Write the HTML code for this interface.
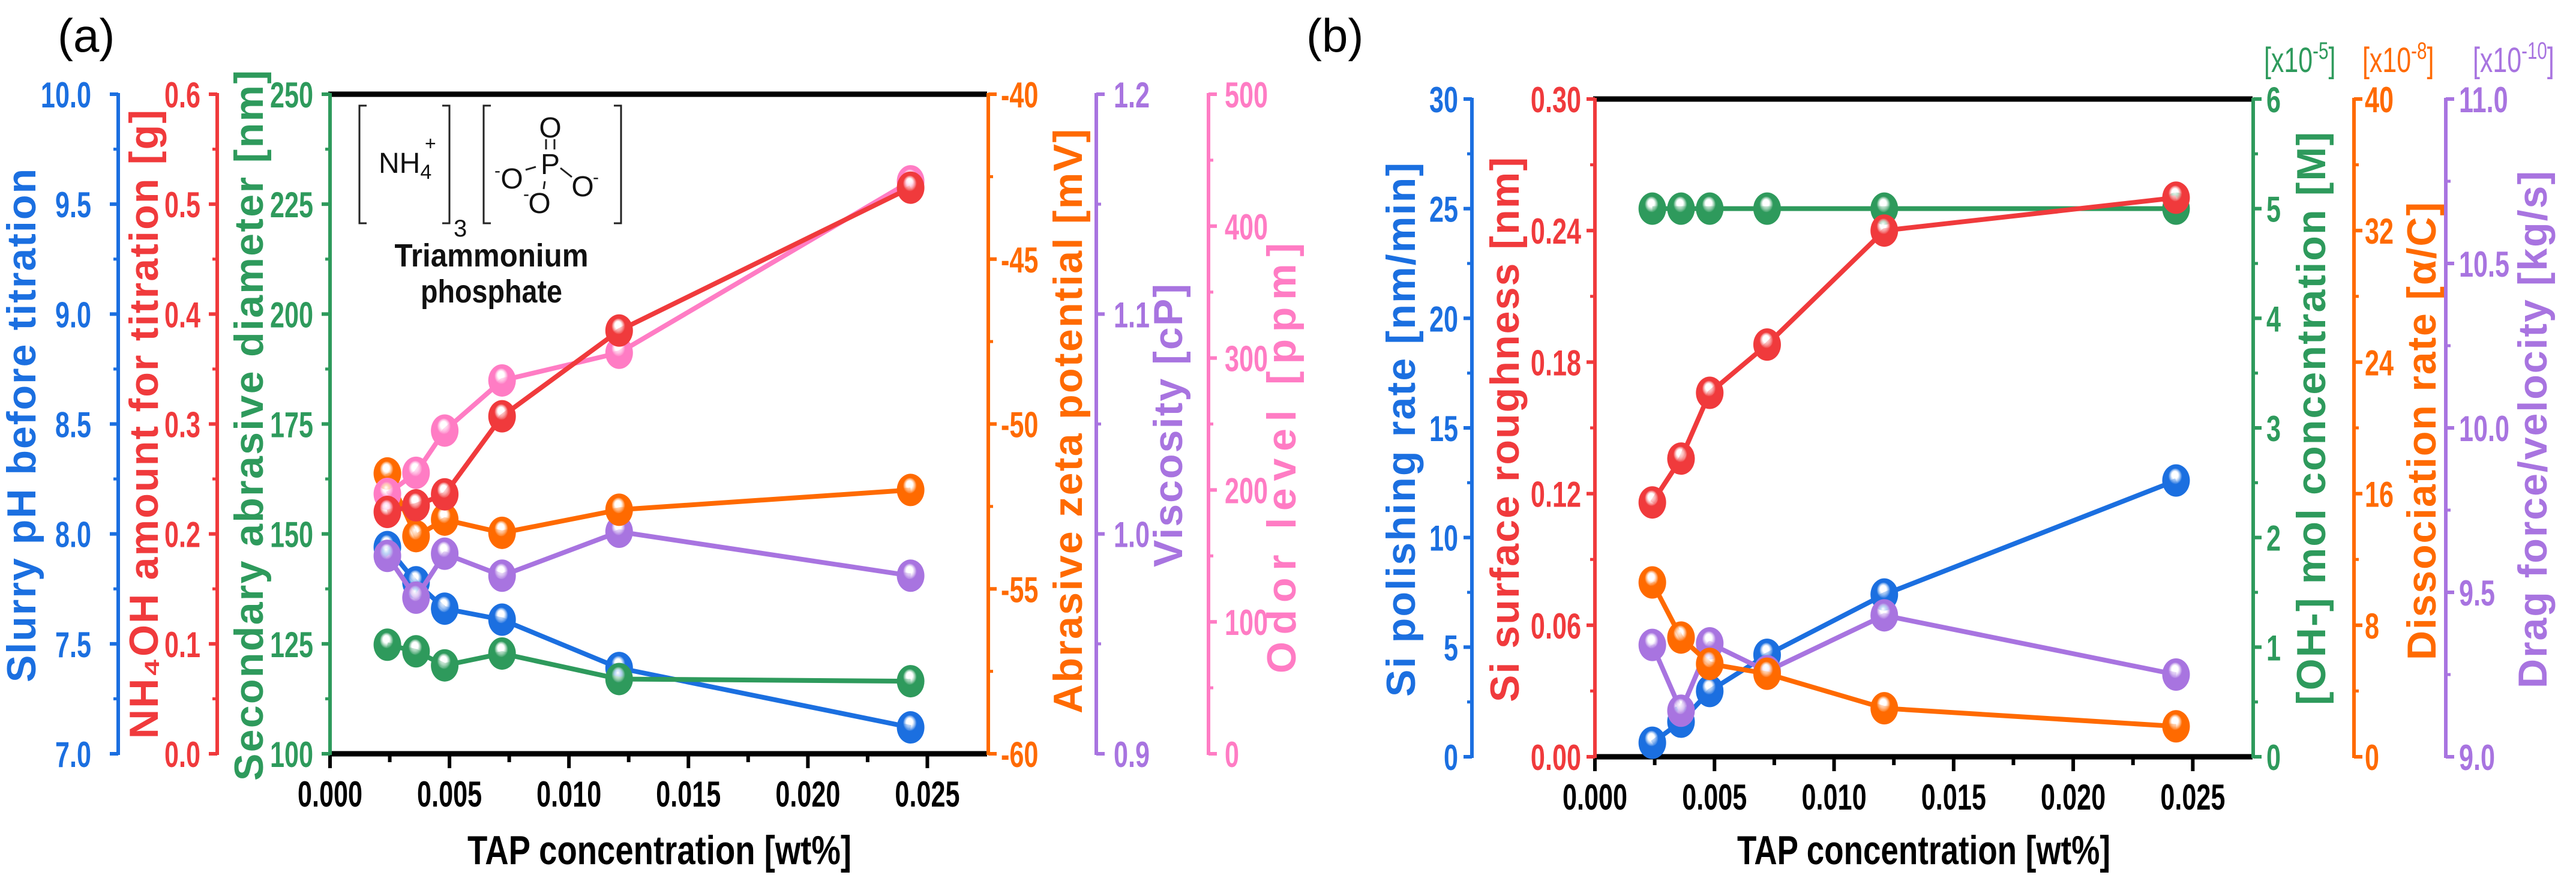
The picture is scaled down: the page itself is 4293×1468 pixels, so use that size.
<!DOCTYPE html>
<html><head><meta charset="utf-8"><style>
html,body{margin:0;padding:0;background:#fff;}
svg{display:block;}
text{font-family:"Liberation Sans",Arial,sans-serif;}
</style></head><body>
<svg id="fig" width="4293" height="1468" viewBox="0 0 4293 1468" xmlns="http://www.w3.org/2000/svg">
<defs id="defs"></defs>
<text x="96" y="86" font-size="78">(a)</text>
<text x="2177" y="86" font-size="78">(b)</text>
<g id="inset" stroke="#222" stroke-width="3" fill="none">
  <path d="M611 176 H599 V372 H611 M737 176 H749 V372 H737"/>
  <path d="M818 176 H806 V372 H818 M1023 176 H1035 V372 H1023"/>
  <path d="M910 232 V249 M924 232 V249"/>
  <path d="M876 283 L893 278 M934 280 L953 295 M908 302 L906 315"/>
</g>
<g fill="#111" font-size="48">
  <text x="631" y="288">NH<tspan font-size="34" dy="10">4</tspan></text>
  <text x="708" y="250" font-size="32">+</text>
  <text x="756" y="394" font-size="40">3</text>
  <text x="917" y="229" text-anchor="middle">O</text>
  <text x="917" y="290" text-anchor="middle">P</text>
  <text x="853" y="314" text-anchor="middle">O</text>
  <text x="824" y="294" font-size="30">-</text>
  <text x="971" y="327" text-anchor="middle">O</text>
  <text x="988" y="305" font-size="30">-</text>
  <text x="899" y="355" text-anchor="middle">O</text>
  <text x="872" y="333" font-size="30">-</text>
  <text x="819" y="444" text-anchor="middle" font-weight="bold" font-size="54" textLength="323" lengthAdjust="spacingAndGlyphs">Triammonium</text>
  <text x="819" y="504" text-anchor="middle" font-weight="bold" font-size="54" textLength="236" lengthAdjust="spacingAndGlyphs">phosphate</text>
</g>
</svg>
<script>
// ---------- Panel (a) data ----------
const xA = [0.0024, 0.0036, 0.0048, 0.0072, 0.0121, 0.0243];
const phA = [7.94, 7.78, 7.66, 7.61, 7.39, 7.12];
const nh4ohA = [0.220, 0.226, 0.236, 0.307, 0.385, 0.515];
const diamA = [124.8, 123.3, 120.1, 122.8, 117.0, 116.5];
const zetaA = [-51.5, -53.4, -52.9, -53.3, -52.6, -52.0];
const viscA = [0.990, 0.971, 0.991, 0.981, 1.001, 0.981];
const odorA = [197, 213, 245, 283, 304, 434];
// ---------- Panel (b) data ----------
const xB = [0.0024, 0.0036, 0.0048, 0.0072, 0.0121, 0.0243];
const rateB = [0.64, 1.6, 3.0, 4.65, 7.4, 12.6];
const roughB = [0.116, 0.136, 0.166, 0.188, 0.240, 0.255];
const ohB = [5.0, 5.0, 5.0, 5.0, 5.0, 5.0];
const dissB = [10.6, 7.25, 5.65, 5.05, 2.95, 1.85];
const dragB = [9.34, 9.14, 9.345, 9.26, 9.43, 9.25];
// ---------- tick labels ----------
const xTicks = ["0.000","0.005","0.010","0.015","0.020","0.025"];
const phTicks = ["7.0","7.5","8.0","8.5","9.0","9.5","10.0"];
const nh4Ticks = ["0.0","0.1","0.2","0.3","0.4","0.5","0.6"];
const diamTicks = ["100","125","150","175","200","225","250"];
const zetaTicks = ["-60","-55","-50","-45","-40"];
const viscTicks = ["0.9","1.0","1.1","1.2"];
const odorTicks = ["0","100","200","300","400","500"];
const rateTicks = ["0","5","10","15","20","25","30"];
const roughTicks = ["0.00","0.06","0.12","0.18","0.24","0.30"];
const ohTicks = ["0","1","2","3","4","5","6"];
const dissTicks = ["0","8","16","24","32","40"];
const dragTicks = ["9.0","9.5","10.0","10.5","11.0"];

const NS = "http://www.w3.org/2000/svg";
const svg = document.getElementById('fig');
const defs = document.getElementById('defs');
const C = {blue:"#1b6fe0", red:"#f03a3c", green:"#2e9a5c", orange:"#ff6a00", purple:"#a874e0", pink:"#ff7cc4"};

function mk(tag, attrs, parent){
  const e = document.createElementNS(NS, tag);
  for (const k in attrs) e.setAttribute(k, attrs[k]);
  (parent||svg).appendChild(e);
  return e;
}
for (const k in C){
  const g = mk('radialGradient', {id:'g-'+k, cx:'0.5', cy:'0.45', r:'0.55', fx:'0.45', fy:'0.3'}, defs);
  mk('stop', {offset:'0', 'stop-color':'#ffffff'}, g);
  mk('stop', {offset:'0.2', 'stop-color':'#ffffff', 'stop-opacity':'0.7'}, g);
  mk('stop', {offset:'0.45', 'stop-color':C[k]}, g);
  mk('stop', {offset:'1', 'stop-color':C[k]}, g);
}
const XMAX = 0.0275;
function xScale(P){ return v => P.left + v / XMAX * (P.right - P.left); }
function yScale(P, lo, hi){ return v => P.bottom - (v - lo) / (hi - lo) * (P.bottom - P.top); }

function tickText(x, y, s, color, anchor, parent){
  const t = mk('text', {transform:`translate(${x},${y}) scale(0.72,1)`, 'font-size':'60', 'font-weight':'bold', fill:color, 'text-anchor':anchor}, parent);
  t.textContent = s;
  return t;
}

function yAxis(P, cfg){
  const g = mk('g', {});
  
  
  const sc = yScale(P, cfg.lo, cfg.hi);
  mk('line', {x1:cfg.x, x2:cfg.x, y1:P.top-2, y2:P.bottom+2, stroke:cfg.color, 'stroke-width':6}, g);
  const dir = cfg.side === 'left' ? -1 : 1;
  const n = cfg.ticks.length;
  for (let i=0;i<n;i++){
    const v = cfg.lo + (cfg.hi-cfg.lo)*i/(n-1);
    const y = sc(v);
    mk('line', {x1:cfg.x, x2:cfg.x+dir*14, y1:y, y2:y, stroke:cfg.color, 'stroke-width':6}, g);
    if (i<n-1){
      const ym = sc(v + (cfg.hi-cfg.lo)/(n-1)/2);
      mk('line', {x1:cfg.x, x2:cfg.x+dir*8, y1:ym, y2:ym, stroke:cfg.color, 'stroke-width':5}, g);
    }
    const t = tickText(cfg.lx, y+22, cfg.ticks[i], cfg.color, cfg.side==='left'?'end':'start', g);
    
    
  }
  const cy = (cfg.t0+cfg.t1)/2;
  const tt = mk('text', {transform:`translate(${cfg.tx},${cy}) rotate(-90)`, 'text-anchor':'middle', 'dominant-baseline':'central', 'font-size':'68', 'font-weight':'bold', fill:cfg.color, textLength:(cfg.t1-cfg.t0), lengthAdjust:'spacing'}, g);
  tt.textContent = cfg.title;
  
  
  return sc;
}

function xAxis(P, name, titleX, titleW){
  const g = mk('g', {});
  
  
  const sx = xScale(P);
  mk('line', {x1:P.left-3, x2:P.right, y1:P.top, y2:P.top, stroke:'#000', 'stroke-width':9}, g);
  mk('line', {x1:P.left-3, x2:P.right, y1:P.bottom, y2:P.bottom, stroke:'#000', 'stroke-width':9}, g);
  for (let i=0;i<xTicks.length;i++){
    const v = i*0.005, x = sx(v);
    mk('line', {x1:x, x2:x, y1:P.bottom, y2:P.bottom+24, stroke:'#000', 'stroke-width':6}, g);
    const xm = sx(v+0.0025);
    if (xm < P.right) mk('line', {x1:xm, x2:xm, y1:P.bottom, y2:P.bottom+14, stroke:'#000', 'stroke-width':6}, g);
    const t = tickText(x, P.bottom+88, xTicks[i], '#000', 'middle', g);
    
    
  }
  const tt = mk('text', {x:titleX, y:1440, 'text-anchor':'middle', 'font-size':'68', 'font-weight':'bold', fill:'#000', textLength:titleW, lengthAdjust:'spacingAndGlyphs'}, g);
  tt.textContent = 'TAP concentration [wt%]';
  
  
  return sx;
}

function series(name, xs, ys, sx, sy, color){
  const g = mk('g', {});
  
  
  const pts = xs.map((x,i)=> sx(x)+','+sy(ys[i])).join(' ');
  const pl = mk('polyline', {points:pts, fill:'none', stroke:C[color], 'stroke-width':8, 'stroke-linejoin':'round'}, g);
  
  
  xs.forEach((x,i)=>{
    const c = mk('ellipse', {cx:sx(x), cy:sy(ys[i]), rx:23, ry:27, fill:`url(#g-${color})`}, g);
    
    
  });
}

// ---------- Panel (a) ----------
const PA = {left:550, right:1645, top:157, bottom:1256};
const sxA = xAxis(PA, 'x-axis-a', 1099, 640);
const syPh = yAxis(PA, {name:'ph-axis', x:197, side:'left', lx:152, lo:7, hi:10, ticks:phTicks, color:C.blue, title:'Slurry pH before titration', tx:36, t0:281, t1:1137});
const syNh = yAxis(PA, {name:'nh4oh-axis', x:362, side:'left', lx:334, lo:0, hi:0.6, ticks:nh4Ticks, color:C.red, title:'NH\u2084OH amount for titration [g]', tx:240, t0:183, t1:1231});
const syDi = yAxis(PA, {name:'diameter-axis', x:550, side:'left', lx:522, lo:100, hi:250, ticks:diamTicks, color:C.green, title:'Secondary abrasive diameter [nm]', tx:415, t0:117, t1:1301});
const syZe = yAxis(PA, {name:'zeta-axis', x:1647, side:'right', lx:1668, lo:-60, hi:-40, ticks:zetaTicks, color:C.orange, title:'Abrasive zeta potential [mV]', tx:1780, t0:215, t1:1189});
const syVi = yAxis(PA, {name:'viscosity-axis', x:1827, side:'right', lx:1856, lo:0.9, hi:1.2, ticks:viscTicks, color:C.purple, title:'Viscosity [cP]', tx:1947, t0:473, t1:945});
const syOd = yAxis(PA, {name:'odor-axis', x:2014, side:'right', lx:2041, lo:0, hi:500, ticks:odorTicks, color:C.pink, title:'Odor level [ppm]', tx:2136, t0:405, t1:1122});
series('ph-series', xA, phA, sxA, syPh, 'blue');
series('diameter-series', xA, diamA, sxA, syDi, 'green');
series('viscosity-series', xA, viscA, sxA, syVi, 'purple');
series('zeta-series', xA, zetaA, sxA, syZe, 'orange');
series('odor-series', xA, odorA, sxA, syOd, 'pink');
series('nh4oh-series', xA, nh4ohA, sxA, syNh, 'red');

// ---------- Panel (b) ----------
const PB = {left:2658, right:3754, top:165, bottom:1261};
const sxB = xAxis(PB, 'x-axis-b', 3206, 622);
const syRa = yAxis(PB, {name:'rate-axis', x:2453, side:'left', lx:2430, lo:0, hi:30, ticks:rateTicks, color:C.blue, title:'Si polishing rate [nm/min]', tx:2335, t0:271, t1:1161});
const syRo = yAxis(PB, {name:'roughness-axis', x:2658, side:'left', lx:2635, lo:0, hi:0.30, ticks:roughTicks, color:C.red, title:'Si surface roughness [nm]', tx:2508, t0:262, t1:1170});
const syOh = yAxis(PB, {name:'oh-axis', x:3755, side:'right', lx:3777, lo:0, hi:6, ticks:ohTicks, color:C.green, title:'[OH-] mol concentration [M]', tx:3852, t0:220, t1:1175});
const syDs = yAxis(PB, {name:'dissociation-axis', x:3923, side:'right', lx:3941, lo:0, hi:40, ticks:dissTicks, color:C.orange, title:'Dissociation rate [\u03B1/C]', tx:4036, t0:337, t1:1100});
const syDr = yAxis(PB, {name:'drag-axis', x:4076, side:'right', lx:4098, lo:9, hi:11, ticks:dragTicks, color:C.purple, title:'Drag force/velocity [kg/s]', tx:4221, t0:285, t1:1147});
series('oh-series', xB, ohB, sxB, syOh, 'green');
series('roughness-series', xB, roughB, sxB, syRo, 'red');
series('rate-series', xB, rateB, sxB, syRa, 'blue');
series('drag-series', xB, dragB, sxB, syDr, 'purple');
series('dissociation-series', xB, dissB, sxB, syDs, 'orange');

// exponent labels
const expLabels = [["[x10","-5","]",3773,C.green,'oh-exponent'],["[x10","-8","]",3937,C.orange,'diss-exponent'],["[x10","-10","]",4121,C.purple,'drag-exponent']];
expLabels.forEach(e=>{
  const t = mk('text', {transform:`translate(${e[3]},120) scale(0.74,1)`, 'font-size':'58', fill:e[4]});
  
  
  t.appendChild(document.createTextNode(e[0]));
  const s = mk('tspan', {dy:'-22', 'font-size':'40'}, t); s.textContent = e[1];
  const s2 = mk('tspan', {dy:'22'}, t); s2.textContent = e[2];
});
</script>
</body></html>
